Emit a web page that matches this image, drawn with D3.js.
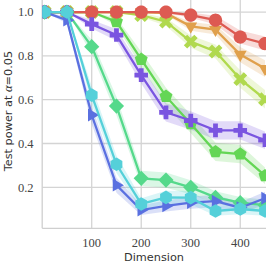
<!DOCTYPE html>
<html>
<head>
<meta charset="utf-8">
<script src="https://cdn.jsdelivr.net/npm/d3@7"></script>
<style>
  body { margin: 0; background: #fff; }
  svg { display: block; }
</style>
</head>
<body>
<script>
// dimensions tested
var dims = [5, 50, 100, 150, 200, 250, 300, 350, 400, 450];

// test power per method
var powerRed    = [1, 1, 1, 1, 1, 1, 0.986, 0.963, 0.886, 0.856];
var powerOrange = [1, 1, 1, 1, 1, 0.995, 0.935, 0.92, 0.806, 0.742];
var powerLime   = [1, 1, 1, 1, 0.986, 0.956, 0.865, 0.82, 0.694, 0.602];
var powerGreen  = [1, 1, 1, 0.956, 0.784, 0.615, 0.49, 0.362, 0.352, 0.253];
var powerPurple = [1, 1, 0.945, 0.895, 0.712, 0.542, 0.505, 0.46, 0.46, 0.415];
var powerTeal   = [1, 1, 0.842, 0.571, 0.241, 0.233, 0.2, 0.154, 0.13, 0.119];
var powerBlue   = [1, 0.963, 0.53, 0.21, 0.096, 0.115, 0.13, 0.137, 0.107, 0.15];
var powerCyan   = [1, 1, 0.621, 0.305, 0.124, 0.154, 0.153, 0.092, 0.101, 0.092];

// half width of the shaded bands
var errRed    = [0, 0, 0, 0, 0, 0.005, 0.012, 0.02, 0.03, 0.032];
var errOrange = [0, 0, 0, 0, 0, 0.005, 0.02, 0.022, 0.035, 0.038];
var errLime   = [0, 0, 0, 0, 0.01, 0.018, 0.028, 0.032, 0.04, 0.042];
var errGreen  = [0, 0, 0, 0.018, 0.035, 0.04, 0.042, 0.042, 0.042, 0.038];
var errPurple = [0, 0, 0.02, 0.026, 0.038, 0.042, 0.042, 0.042, 0.042, 0.04];
var errTeal   = [0, 0, 0.032, 0.042, 0.035, 0.035, 0.032, 0.028, 0.026, 0.024];
var errBlue   = [0, 0.015, 0.042, 0.035, 0.022, 0.025, 0.028, 0.028, 0.025, 0.03];
var errCyan   = [0, 0, 0.042, 0.04, 0.026, 0.03, 0.03, 0.022, 0.024, 0.022];

var xTicks = [100, 200, 300, 400];
var yTicks = [0.2, 0.4, 0.6, 0.8, 1.0];

// drawing order: last one ends on top
var series = [
    {values: powerGreen,  err: errGreen,  color: "#64d655", marker: "pentagon"},
    {values: powerLime,   err: errLime,   color: "#b0d94e", marker: "x"},
    {values: powerOrange, err: errOrange, color: "#e0a04c", marker: "tridown"},
    {values: powerRed,    err: errRed,    color: "#dd5a52", marker: "circle"},
    {values: powerPurple, err: errPurple, color: "#7a55e0", marker: "plus"},
    {values: powerTeal,   err: errTeal,   color: "#55d98b", marker: "diamond"},
    {values: powerBlue,   err: errBlue,   color: "#5a70e0", marker: "triright"},
    {values: powerCyan,   err: errCyan,   color: "#55d0d9", marker: "hexagon"}
];

var width = 266, height = 263;
var plotLeft = 42.2, plotRight = 266, plotTop = 0, plotBottom = 228.3;

var x = d3.scaleLinear().domain([0, 452]).range([plotLeft, plotRight]);
var y = d3.scaleLinear().domain([0.013, 1.055]).range([plotBottom, plotTop]);

var svg = d3.select("body")
    .append("svg")
    .attr("width", width)
    .attr("height", height);

svg.append("defs").append("clipPath")
    .attr("id", "plotclip")
    .append("rect")
    .attr("x", plotLeft)
    .attr("y", plotTop)
    .attr("width", plotRight - plotLeft)
    .attr("height", plotBottom - plotTop);

// grid
var grid = svg.append("g");
grid.selectAll(".vgrid")
    .data(xTicks)
    .enter()
    .append("line")
    .attr("x1", d => x(d)).attr("x2", d => x(d))
    .attr("y1", plotTop).attr("y2", plotBottom)
    .style("stroke", "#d4d4d4")
    .style("stroke-width", 1.3);
grid.selectAll(".hgrid")
    .data(yTicks)
    .enter()
    .append("line")
    .attr("x1", plotLeft).attr("x2", plotRight)
    .attr("y1", d => y(d)).attr("y2", d => y(d))
    .style("stroke", "#d4d4d4")
    .style("stroke-width", 1.3);

// spines
svg.append("line")
    .attr("x1", plotLeft).attr("x2", plotLeft)
    .attr("y1", plotTop).attr("y2", plotBottom)
    .style("stroke", "#cfcfcf").style("stroke-width", 1.3);
svg.append("line")
    .attr("x1", plotLeft).attr("x2", plotRight)
    .attr("y1", plotBottom).attr("y2", plotBottom)
    .style("stroke", "#cfcfcf").style("stroke-width", 1.3);

// tick labels
svg.selectAll(".xlab")
    .data(xTicks)
    .enter()
    .append("text")
    .attr("x", d => x(d))
    .attr("y", 247)
    .attr("text-anchor", "middle")
    .style("font-family", "'Liberation Serif', serif")
    .style("font-size", "12.5px")
    .style("fill", "#444")
    .text(d => d);
svg.selectAll(".ylab")
    .data(yTicks)
    .enter()
    .append("text")
    .attr("x", 33.5)
    .attr("y", d => y(d) + 4.3)
    .attr("text-anchor", "end")
    .style("font-family", "'Liberation Serif', serif")
    .style("font-size", "12.5px")
    .style("fill", "#444")
    .text(d => d.toFixed(1));

// axis titles
svg.append("text")
    .attr("x", 154)
    .attr("y", 261)
    .attr("text-anchor", "middle")
    .style("font-family", "'DejaVu Sans', sans-serif")
    .style("font-size", "11.3px")
    .style("fill", "#333")
    .text("Dimension");
var ytitle = svg.append("text")
    .attr("transform", "translate(12," + 111 + ") rotate(-90)")
    .attr("text-anchor", "middle")
    .style("font-family", "'DejaVu Sans', sans-serif")
    .style("font-size", "11.3px")
    .style("fill", "#333");
ytitle.append("tspan").text("Test power at ");
ytitle.append("tspan")
    .style("font-family", "'Liberation Serif', serif")
    .style("font-style", "italic")
    .style("font-size", "12.5px")
    .text("α");
ytitle.append("tspan").text("=0.05");

// marker shapes
function polygon(n, r, startAngle) {
    var pts = [];
    for (var i = 0; i < n; i++) {
        var a = startAngle + i * 2 * Math.PI / n;
        pts.push([r * Math.cos(a), r * Math.sin(a)]);
    }
    return "M" + pts.map(p => p[0].toFixed(2) + "," + p[1].toFixed(2)).join("L") + "Z";
}
function plusPath(r, w, rot) {
    var base = [[-w, -r], [w, -r], [w, -w], [r, -w], [r, w], [w, w], [w, r], [-w, r], [-w, w], [-r, w], [-r, -w], [-w, -w]];
    var c = Math.cos(rot), s = Math.sin(rot);
    var pts = base.map(p => [p[0] * c - p[1] * s, p[0] * s + p[1] * c]);
    return "M" + pts.map(p => p[0].toFixed(2) + "," + p[1].toFixed(2)).join("L") + "Z";
}
function markerPath(kind) {
    if (kind == "circle") return polygon(40, 6.6, 0);
    if (kind == "tridown") return polygon(3, 7.4, Math.PI / 2);
    if (kind == "triright") return polygon(3, 7.4, 0);
    if (kind == "diamond") return polygon(4, 7.6, -Math.PI / 2);
    if (kind == "pentagon") return polygon(5, 6.8, -Math.PI / 2);
    if (kind == "hexagon") return polygon(6, 6.8, -Math.PI / 2);
    if (kind == "plus") return plusPath(6.8, 2.4, 0);
    if (kind == "x") return plusPath(7.4, 2.4, Math.PI / 4);
}

var plot = svg.append("g").attr("clip-path", "url(#plotclip)");

var area = d3.area()
    .x((d, i) => x(dims[i]))
    .y0(d => y(d[0] - d[1]))
    .y1(d => y(Math.min(d[0] + d[1], 1)));
var line = d3.line()
    .x((d, i) => x(dims[i]))
    .y(d => y(d));

// bands
series.forEach(function(s) {
    plot.append("path")
        .datum(s.values.map((v, i) => [v, s.err[i]]))
        .attr("d", area)
        .style("fill", s.color)
        .style("opacity", 0.22);
});

// lines and markers
series.forEach(function(s) {
    plot.append("path")
        .datum(s.values)
        .attr("d", line)
        .style("fill", "none")
        .style("stroke", s.color)
        .style("stroke-width", 2.3);
    plot.selectAll(null)
        .data(s.values)
        .enter()
        .append("path")
        .attr("d", markerPath(s.marker))
        .attr("transform", (d, i) => "translate(" + x(dims[i]) + "," + y(d) + ")")
        .style("fill", s.color);
});
</script>
</body>
</html>
